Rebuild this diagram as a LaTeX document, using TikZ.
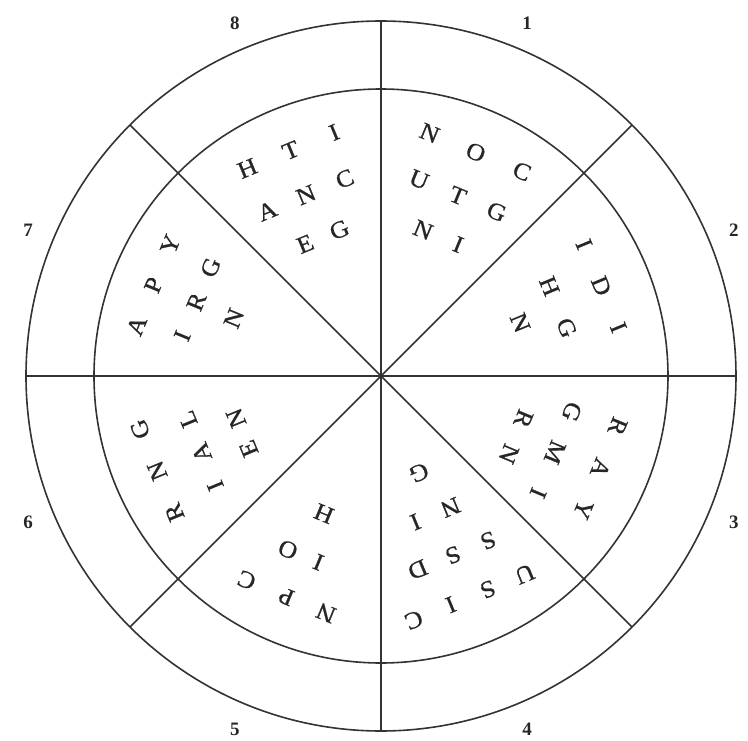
\documentclass[tikz,border=0pt]{standalone}
\usepackage{fontspec}
\setmainfont{Liberation Serif}
\newfontfamily\ltrfont[FakeBold=0.8,FakeStretch=1.08]{Liberation Serif}
\tikzset{
  ltr/.style={font=\ltrfont\fontsize{24}{24}\selectfont, inner sep=0pt, text=black!85},
  num/.style={font=\fontsize{19}{19}\selectfont\bfseries, inner sep=0pt, text=black!85},
  ring/.style={line width=1.6pt, draw=black!80},
}
\newcommand\sectrow[7]{%
  \pgfmathsetmacro\secang{67.5-45*(#1-1)}%
  \pgfmathsetmacro\secrot{\secang-90}%
  \foreach \L [count=\i] in {#7} {%
    \pgfmathsetmacro\toff{(\i-(#6+1)/2)*#4+#5}%
    \node[ltr, rotate=\secrot] (s#1r#2c\i) at ([shift={(\secrot:\toff)}]\secang:#3) {\L};%
  }%
}
\begin{document}
\begin{tikzpicture}[x=1pt,y=1pt]
\useasboundingbox (-381,-364) rectangle (367,376);
% rings
\coordinate (c) at (0,0);
\draw[ring] (c) circle (355);
\draw[ring] (c) circle (287);
\foreach \a in {0,45,...,315} {
  \coordinate (e\a) at (\a:355);
  \draw[ring] (c) -- (e\a);
}
% numbers
\foreach \k in {1,...,8} {
  \pgfmathsetmacro\na{67.5-45*(\k-1)}
  \node[num] (n\k) at (\na:382) {\k};
}
% sector 1
\sectrow{1}{1}{243}{50}{2}{3}{N,O,C}
\sectrow{1}{2}{196}{42}{2}{3}{U,T,G}
\sectrow{1}{3}{151}{38}{2}{2}{N,I}
% sector 2
\sectrow{2}{1}{238}{45}{1}{3}{I,D,I}
\sectrow{2}{2}{190}{45}{4}{2}{H,G}
\sectrow{2}{3}{149}{0}{4}{1}{N}
% sector 3
\sectrow{3}{1}{238}{45}{1}{3}{R,A,Y}
\sectrow{3}{2}{190}{44}{4}{3}{G,M,I}
\sectrow{3}{3}{148}{38}{4}{2}{R,N}
% sector 4
\sectrow{4}{1}{238}{40}{3}{4}{U,S,I,C}
\sectrow{4}{2}{193}{38}{2}{3}{S,S,D}
\sectrow{4}{3}{148}{38}{5}{2}{N,I}
\sectrow{4}{4}{104}{0}{2}{1}{G}
% sector 5
\sectrow{5}{1}{240}{43}{3}{3}{N,P,C}
\sectrow{5}{2}{196}{33}{3}{2}{I,O}
\sectrow{5}{3}{149}{0}{0}{1}{H}
% sector 6
\sectrow{6}{1}{243}{45}{-2}{3}{R,N,G}
\sectrow{6}{2}{195}{36}{-2}{3}{I,A,L}
\sectrow{6}{3}{150}{33}{0}{2}{E,N}
% sector 7
\sectrow{7}{1}{245}{44}{-3}{3}{A,P,Y}
\sectrow{7}{2}{199}{37}{-2}{3}{I,R,G}
\sectrow{7}{3}{158}{0}{-3}{1}{N}
% sector 8
\sectrow{8}{1}{243}{47}{3}{3}{H,T,I}
\sectrow{8}{2}{196}{42}{0}{3}{A,N,C}
\sectrow{8}{3}{151}{37}{-1}{2}{E,G}
\end{tikzpicture}
\end{document}
